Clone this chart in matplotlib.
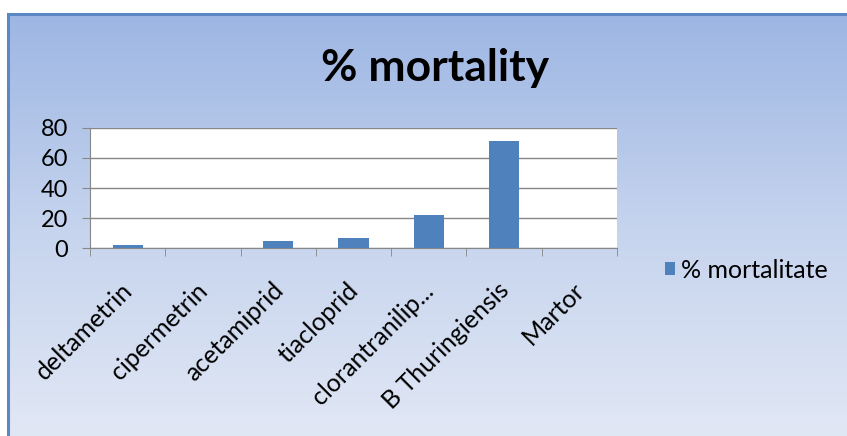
import numpy as np
import matplotlib
matplotlib.use("Agg")
import matplotlib.pyplot as plt
import matplotlib.transforms as mtransforms
from matplotlib.colors import LinearSegmentedColormap
from matplotlib.patches import Rectangle

# data
categories = ["deltametrin", "cipermetrin", "acetamiprid", "tiacloprid",
              "clorantranilip...", "B Thuringiensis", "Martor"]
mortality = [2, 0, 4.5, 7, 22, 71, 0]
series_name = "% mortalitate"
title = "% mortality"
yticks = [0, 20, 40, 60, 80]

plt.rcParams['font.family'] = ['Lato', 'DejaVu Sans']

W, H = 847, 436
fig = plt.figure(figsize=(W / 100, H / 100), dpi=100)
fig.patch.set_facecolor("white")

# gradient chart background with blue frame
bx, by = 8 / W, 14 / H
bg = fig.add_axes([bx, -0.02, 1.02 - bx, 1 - by + 0.02], zorder=0)
cmap = LinearSegmentedColormap.from_list("bg", ["#9db6e3", "#c6d4ee", "#e2e8f5"])
bg.imshow(np.linspace(0, 1, 256)[:, None], aspect="auto", cmap=cmap,
          extent=[0, 1, 0, 1], origin="upper")
bg.set_axis_off()
fig.add_artist(Rectangle((bx, -0.05), 1.1, 1 - by + 0.05, transform=fig.transFigure,
                         fill=False, edgecolor="#5b87c4", linewidth=2.2, zorder=1))

ax = fig.add_axes([90 / W, 1 - 248 / H, 527 / W, 120 / H], zorder=2)
ax.set_facecolor("white")
x = np.arange(len(categories))
ax.bar(x, mortality, width=0.4, color="#4f81bd", label=series_name, zorder=3)

ax.set_xlim(-0.5, len(categories) - 0.5)
ax.set_ylim(0, 80)
ax.set_yticks(yticks)
ax.yaxis.grid(True, color="#878787", linewidth=1.0, zorder=1)
ax.tick_params(axis="y", length=5.5, color="#878787", labelsize=17, pad=10)

ax.set_xticks(x)
ax.set_xticklabels(categories, rotation=45, ha="right", rotation_mode="anchor",
                   fontsize=18)
ax.set_xticks(np.arange(-0.5, len(categories)), minor=True)
ax.tick_params(axis="x", which="major", length=0, pad=22)
ax.tick_params(axis="x", which="minor", length=5.5, color="#878787")
# nudge the rotated labels a little to the left
shift = mtransforms.ScaledTranslation(-7 / 100, 0, fig.dpi_scale_trans)
for lbl in ax.get_xticklabels():
    lbl.set_transform(lbl.get_transform() + shift)

for s in ["top", "right"]:
    ax.spines[s].set_visible(False)
for s in ["left", "bottom"]:
    ax.spines[s].set_color("#878787")

fig.text(435 / W, 1 - 68 / H, title, ha="center", va="center",
         fontsize=32, fontweight="bold")

fig.legend(loc="center left", bbox_to_anchor=(642 / W, 1 - 270 / H),
           frameon=False, fontsize=18, handlelength=0.42, handleheight=0.42,
           handletextpad=0.25)

fig.savefig("out.png", dpi=100)
